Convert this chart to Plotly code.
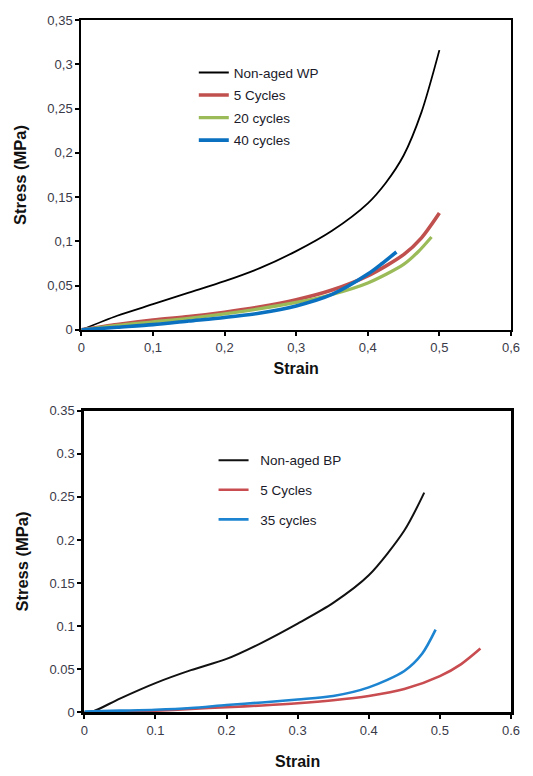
import plotly.graph_objects as go

# ---- Top panel: WP specimens (strain, stress in MPa) ----
wp_names = ["Non-aged WP", "5 Cycles", "20 cycles", "40 cycles"]
wp_nonaged_x = [0, 0.05, 0.1, 0.15, 0.2, 0.25, 0.3, 0.35, 0.4, 0.425, 0.45, 0.475, 0.5]
wp_nonaged_y = [0, 0.016, 0.029, 0.042, 0.055, 0.070, 0.089, 0.112, 0.143, 0.166, 0.197, 0.246, 0.316]
wp_5_x = [0, 0.05, 0.1, 0.15, 0.2, 0.25, 0.3, 0.35, 0.4, 0.45, 0.475, 0.5]
wp_5_y = [0, 0.006, 0.011, 0.015, 0.020, 0.026, 0.034, 0.045, 0.061, 0.085, 0.104, 0.132]
wp_20_x = [0, 0.05, 0.1, 0.15, 0.2, 0.25, 0.3, 0.35, 0.4, 0.45, 0.47, 0.489]
wp_20_y = [0, 0.005, 0.009, 0.013, 0.018, 0.024, 0.031, 0.040, 0.053, 0.074, 0.088, 0.105]
wp_40_x = [0, 0.05, 0.1, 0.15, 0.2, 0.25, 0.3, 0.35, 0.4, 0.42, 0.44]
wp_40_y = [0, 0.003, 0.006, 0.010, 0.014, 0.019, 0.027, 0.040, 0.063, 0.075, 0.088]

# ---- Bottom panel: BP specimens ----
bp_names = ["Non-aged BP", "5 Cycles", "35 cycles"]
bp_nonaged_x = [0, 0.012, 0.05, 0.1, 0.15, 0.2, 0.25, 0.3, 0.35, 0.4, 0.45, 0.478]
bp_nonaged_y = [0, 0.001, 0.016, 0.034, 0.049, 0.062, 0.081, 0.103, 0.127, 0.159, 0.211, 0.255]
bp_5_x = [0, 0.05, 0.1, 0.15, 0.2, 0.25, 0.3, 0.35, 0.4, 0.45, 0.5, 0.53, 0.557]
bp_5_y = [0, 0.001, 0.002, 0.004, 0.006, 0.008, 0.0105, 0.014, 0.019, 0.027, 0.042, 0.056, 0.074]
bp_35_x = [0, 0.05, 0.1, 0.15, 0.2, 0.25, 0.3, 0.35, 0.4, 0.45, 0.475, 0.494]
bp_35_y = [0.001, 0.002, 0.003, 0.005, 0.0085, 0.0115, 0.015, 0.019, 0.029, 0.048, 0.068, 0.096]

# ---- Axis ticks ----
x_ticks = [0, 0.1, 0.2, 0.3, 0.4, 0.5, 0.6]
y_ticks = [0, 0.05, 0.1, 0.15, 0.2, 0.25, 0.3, 0.35]
x_labels_comma = ["0", "0,1", "0,2", "0,3", "0,4", "0,5", "0,6"]
y_labels_comma = ["0", "0,05", "0,1", "0,15", "0,2", "0,25", "0,3", "0,35"]
x_labels_dot = ["0", "0.1", "0.2", "0.3", "0.4", "0.5", "0.6"]
y_labels_dot = ["0", "0.05", "0.1", "0.15", "0.2", "0.25", "0.3", "0.35"]

FONT = "Liberation Sans, Arial, sans-serif"
TICK_COLOR = "#3a3a48"
SMOOTH = 0.8

fig = go.Figure()

top_series = [
    (wp_nonaged_x, wp_nonaged_y, "#000000", 1.8),
    (wp_5_x, wp_5_y, "#C0504D", 3.6),
    (wp_20_x, wp_20_y, "#9BBB59", 3.2),
    (wp_40_x, wp_40_y, "#0A70C0", 3.6),
]
for i, (xs, ys, col, w) in enumerate(top_series):
    fig.add_trace(go.Scatter(
        x=xs, y=ys, mode="lines", name=wp_names[i],
        line=dict(color=col, width=w, shape="spline", smoothing=SMOOTH),
        xaxis="x", yaxis="y", legend="legend", legendgroup=f"t{i}",
    ))

# the lower legend keeps a small gap between sample line and label
bot_series = [
    (bp_nonaged_x, bp_nonaged_y, "#111111", 2.0),
    (bp_5_x, bp_5_y, "#C84C50", 2.6),
    (bp_35_x, bp_35_y, "#1C84D0", 2.6),
]
for i, (xs, ys, col, w) in enumerate(bot_series):
    fig.add_trace(go.Scatter(
        x=xs, y=ys, mode="lines", name="\u2002" + bp_names[i],
        line=dict(color=col, width=w, shape="spline", smoothing=SMOOTH),
        xaxis="x2", yaxis="y2", legend="legend2", legendgroup=f"b{i}",
    ))

def xaxis_cfg(domain, anchor, labels, lw, standoff):
    return dict(
        domain=domain, anchor=anchor, range=[0, 0.6],
        tickvals=x_ticks, ticktext=labels,
        showgrid=False, zeroline=False,
        showline=True, linecolor="#000000", linewidth=lw, mirror=True,
        ticks="outside", ticklen=4, tickwidth=1.5, tickcolor="#000000",
        tickfont=dict(family=FONT, size=13, color=TICK_COLOR),
        title=dict(text="<b>Strain</b>", font=dict(family=FONT, size=16, color="#111111"),
                   standoff=standoff),
    )

def yaxis_cfg(domain, anchor, labels, lw):
    return dict(
        domain=domain, anchor=anchor, range=[0, 0.35],
        tickvals=y_ticks, ticktext=labels,
        showgrid=False, zeroline=False,
        showline=True, linecolor="#000000", linewidth=lw, mirror=True,
        ticks="outside", ticklen=4, tickwidth=1.5, tickcolor="#000000",
        tickfont=dict(family=FONT, size=13, color=TICK_COLOR),
        title=dict(text="<b>Stress (MPa)</b>", font=dict(family=FONT, size=16.5, color="#111111"),
                   standoff=17),
    )

legend_font = dict(family=FONT, size=13.5, color="#1a1a2a")

fig.update_layout(
    width=533, height=776,
    margin=dict(l=0, r=0, t=0, b=0),
    paper_bgcolor="white", plot_bgcolor="white",
    showlegend=True,
    xaxis=xaxis_cfg([0.1488, 0.975], "y", x_labels_comma, 2.2, 9),
    yaxis=yaxis_cfg([0.5757, 0.9829], "x", y_labels_comma, 2.2),
    xaxis2=xaxis_cfg([0.1544, 0.975], "y2", x_labels_dot, 3, 19),
    yaxis2=yaxis_cfg([0.0731, 0.4695], "x2", y_labels_dot, 3),
    legend=dict(
        x=0.365, y=0.934, xanchor="left", yanchor="top",
        bgcolor="rgba(0,0,0,0)", font=legend_font,
        tracegroupgap=2, itemwidth=30,
    ),
    legend2=dict(
        x=0.403, y=0.4245, xanchor="left", yanchor="top",
        bgcolor="rgba(0,0,0,0)", font=legend_font,
        tracegroupgap=9, itemwidth=30,
    ),
)

fig.write_html("out.html")
